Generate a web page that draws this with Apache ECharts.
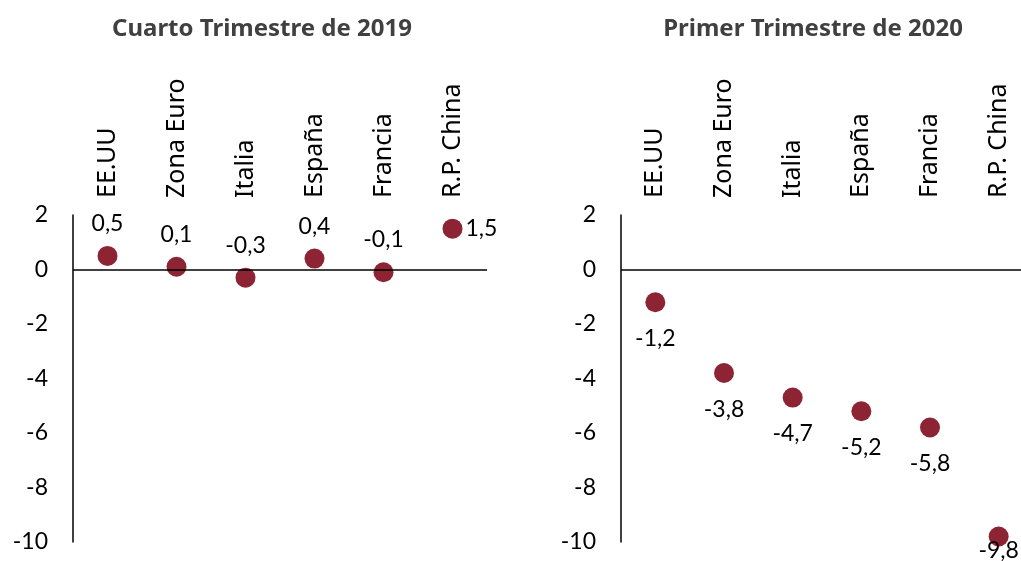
<!DOCTYPE html>
<html>
<head>
<meta charset="utf-8">
<script src="https://cdn.jsdelivr.net/npm/echarts@6/dist/echarts.min.js"></script>
<style>
  html, body { margin: 0; padding: 0; background: #fff; overflow: hidden; }
  /* a bit wider than the window: the right panel's zero line runs off the edge */
  #chart { width: 1040px; height: 561px; }
</style>
</head>
<body>
<div id="chart"></div>
<script>
const countries = ['EE.UU', 'Zona Euro', 'Italia', 'España', 'Francia', 'R.P. China'];
const q4_2019 = [0.5, 0.1, -0.3, 0.4, -0.1, 1.5];
const q1_2020 = [-1.2, -3.8, -4.7, -5.2, -5.8, -9.8];
const titles = ['Cuarto Trimestre de 2019', 'Primer Trimestre de 2020'];
const yTicks = { min: -10, max: 2, step: 2 };

const dotColor = '#8c2433';
const numFont = 'Lato';
const catFont = 'Noto Sans';

const fmt = (v) => v.toFixed(1).replace('.', ',');

const grids = [
  { left: 73, top: 215, width: 414, height: 327 },
  { left: 621, top: 215, width: 412, height: 327 },
];

function xAxisFor(i) {
  return {
    type: 'category',
    gridIndex: i,
    position: 'top',
    data: countries,
    axisLine: { show: false },
    axisTick: { show: false },
    axisLabel: {
      rotate: 90,
      margin: 17,
      interval: 0,
      color: '#000',
      fontFamily: catFont,
      fontSize: 25,
    },
  };
}

function yAxisFor(i) {
  return {
    type: 'value',
    gridIndex: i,
    min: yTicks.min,
    max: yTicks.max,
    interval: yTicks.step,
    axisLine: { show: true, lineStyle: { color: '#000', width: 1.5 } },
    axisTick: { show: false },
    splitLine: { show: false },
    axisLabel: {
      margin: 25,
      color: '#000',
      fontFamily: numFont,
      fontSize: 23,
    },
  };
}

function seriesFor(i, values, pos, dist) {
  return {
    type: 'scatter',
    xAxisIndex: i,
    yAxisIndex: i,
    symbolSize: 20,
    itemStyle: { color: dotColor, opacity: 1 },
    data: values.map((v, k) => {
      const item = { value: v };
      const last = k === values.length - 1;
      // China in 2019 has its label to the right of the dot
      if (i === 0 && last) item.label = { position: 'right', distance: 3 };
      // China in 2020 sits on the bottom edge, label pushed up onto the dot
      if (i === 1 && last) item.label = { position: 'bottom', distance: -7 };
      return item;
    }),
    label: {
      show: true,
      position: pos,
      distance: dist,
      color: '#000',
      fontFamily: numFont,
      fontSize: 23,
      formatter: (p) => fmt(p.value),
    },
    labelLayout: { hideOverlap: false },
    markLine: {
      silent: true,
      symbol: 'none',
      label: { show: false },
      lineStyle: { color: '#000', width: 1.5, type: 'solid' },
      data: [{ yAxis: 0 }],
      animation: false,
    },
    z: 3,
  };
}

const titleStyle = { color: '#404040', fontFamily: catFont, fontWeight: 'bold', fontSize: 24 };

const option = {
  animation: false,
  title: [
    { text: titles[0], left: 257, top: 12, textAlign: 'center', textStyle: titleStyle },
    { text: titles[1], left: 808, top: 12, textAlign: 'center', textStyle: titleStyle },
  ],
  grid: grids,
  xAxis: [xAxisFor(0), xAxisFor(1)],
  yAxis: [yAxisFor(0), yAxisFor(1)],
  series: [
    seriesFor(0, q4_2019, 'top', 11),
    seriesFor(1, q1_2020, 'bottom', 15),
  ],
};

const chart = echarts.init(document.getElementById('chart'), null, { renderer: 'canvas' });
chart.setOption(option);
</script>
</body>
</html>
